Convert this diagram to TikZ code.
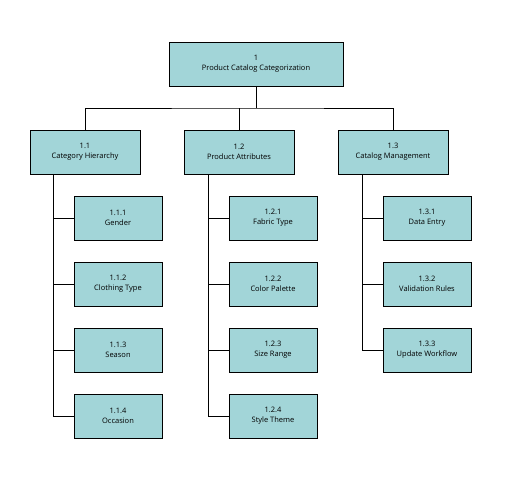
\documentclass[tikz,border=0pt]{standalone}
\usepackage{fontspec}
\setmainfont{Open Sans}
\begin{document}
\begin{tikzpicture}[x=1pt,y=-1pt,
 box/.style={draw=black,fill=boxc,line width=0.6pt,align=center,font=\fontsize{7.5}{10}\selectfont,inner sep=0pt},
 ln/.style={line width=0.8pt}]
\definecolor{boxc}{HTML}{A2D5D8}
\useasboundingbox (0,0) rectangle (513,485);
\node[box,minimum width=174,minimum height=44] (r) at (256,64) {1\\Product Catalog Categorization};
\foreach \n/\x/\t in {a/85/{1.1\\Category Hierarchy},b/239/{1.2\\Product Attributes},c/393/{1.3\\Catalog Management}}
 \node[box,minimum width=110,minimum height=44] (\n) at (\x,152) {\t};
\coordinate (bus) at (256,108);
\draw[ln] (r.south) -- (bus);
\draw[ln] (a.north) |- (bus) -| (c.north);
\draw[ln] (b.north) -- (b.north|-bus);
\foreach \p/\sx/\cx/\lst in {a/53/118/{1/1.1.1/Gender,2/1.1.2/Clothing Type,3/1.1.3/Season,4/1.1.4/Occasion},
  b/208/273/{1/1.2.1/Fabric Type,2/1.2.2/Color Palette,3/1.2.3/Size Range,4/1.2.4/Style Theme},
  c/362/427/{1/1.3.1/Data Entry,2/1.3.2/Validation Rules,3/1.3.3/Update Workflow}}{
 \foreach \i/\num/\txt in \lst {
  \node[box,minimum width=88,minimum height=44] (\p\i) at (\cx,152+66*\i) {\num\\\txt};
  \coordinate (\p s\i) at (\sx,152+66*\i);
  \draw[ln] (\p s\i) -- (\p\i.west);
  \coordinate (\p e) at (\sx,152+66*\i);
 }
 \draw[ln] (\p.south-|\p e) -- (\p e);
}
\end{tikzpicture}
\end{document}
